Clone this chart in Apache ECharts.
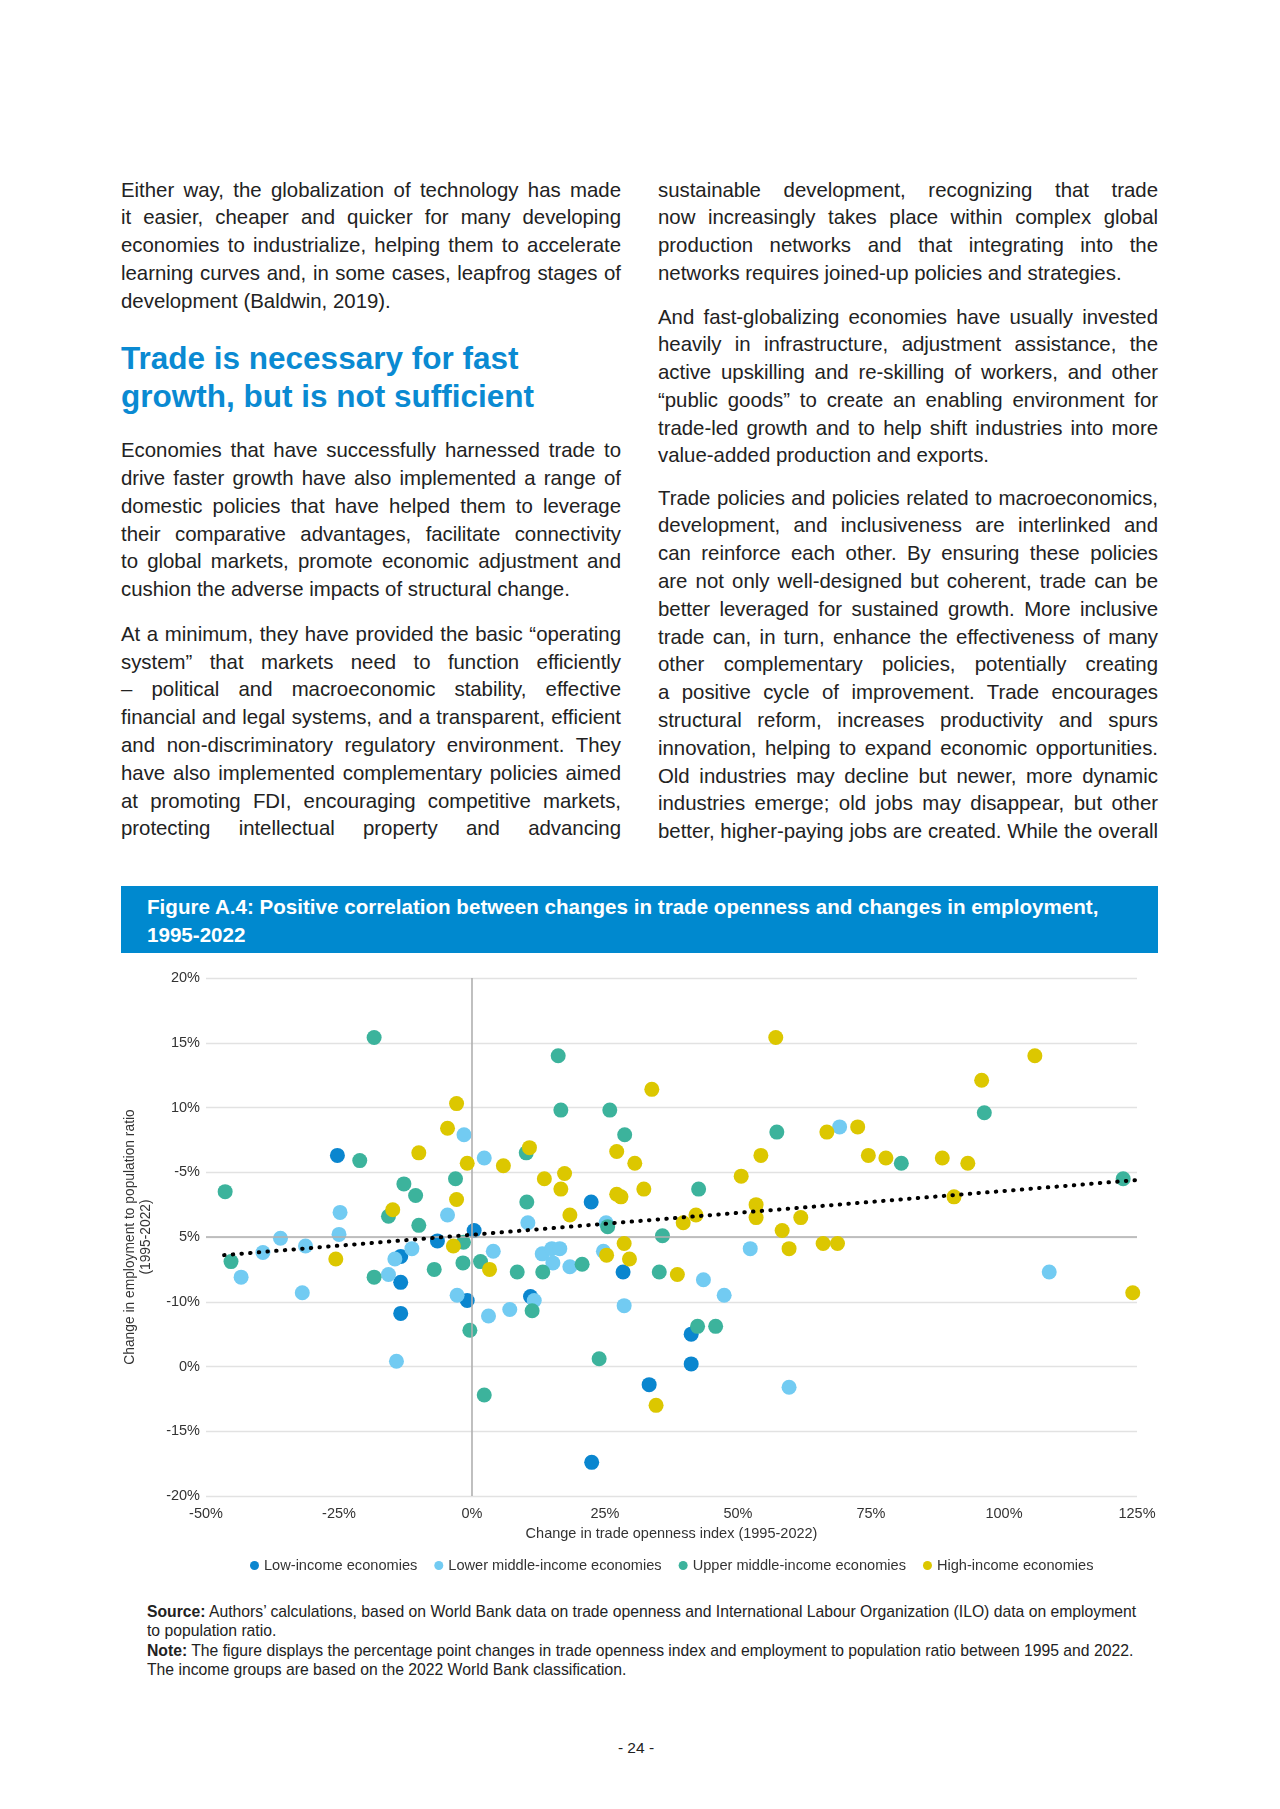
<!DOCTYPE html>
<html>
<head>
<meta charset="utf-8">
<script src="https://cdn.jsdelivr.net/npm/echarts@6/dist/echarts.min.js"></script>
<style>
  html, body { margin:0; padding:0; background:#fff; }
  body { width:1280px; height:1809px; position:relative; overflow:hidden; font-family:'Liberation Sans', Arial, sans-serif; color:#222; }
  .col { position:absolute; width:500px; font-size:20.4px; }
  .p { position:absolute; left:0; width:500px; }
  .l { height:27.8px; line-height:27.8px; text-align:justify; text-align-last:justify; white-space:nowrap; }
  .l.e { text-align:left; text-align-last:left; }
  .h { position:absolute; left:0; font-size:31.5px; font-weight:bold; color:#0a8ad2; line-height:38px; white-space:nowrap; }
  #bar { position:absolute; left:121px; top:886px; width:1037px; height:67px; background:#0089cf; color:#fff; font-weight:bold; font-size:20.6px; line-height:28px; box-sizing:border-box; padding:7px 0 0 26px; white-space:nowrap; }
  #chart { position:absolute; left:121px; top:955px; width:1040px; height:640px; }
  #src { position:absolute; left:147px; top:1602px; width:1010px; font-size:15.8px; line-height:19.4px; color:#222; white-space:nowrap; }
  #pg { position:absolute; left:600px; width:72px; top:1739px; text-align:center; font-size:15.5px; color:#222; }
</style>
</head>
<body>
<div class="col" style="left:121px; top:0;">
  <div class="p" style="top:176.5px;">
    <div class="l">Either way, the globalization of technology has made</div>
    <div class="l">it easier, cheaper and quicker for many developing</div>
    <div class="l">economies to industrialize, helping them to accelerate</div>
    <div class="l">learning curves and, in some cases, leapfrog stages of</div>
    <div class="l e">development (Baldwin, 2019).</div>
  </div>
  <div class="h" style="top:338.8px;">Trade is necessary for fast<br>growth, but is not sufficient</div>
  <div class="p" style="top:437.3px;">
    <div class="l">Economies that have successfully harnessed trade to</div>
    <div class="l">drive faster growth have also implemented a range of</div>
    <div class="l">domestic policies that have helped them to leverage</div>
    <div class="l">their comparative advantages, facilitate connectivity</div>
    <div class="l">to global markets, promote economic adjustment and</div>
    <div class="l e">cushion the adverse impacts of structural change.</div>
  </div>
  <div class="p" style="top:620.8px;">
    <div class="l">At a minimum, they have provided the basic “operating</div>
    <div class="l">system” that markets need to function efficiently</div>
    <div class="l">– political and macroeconomic stability, effective</div>
    <div class="l">financial and legal systems, and a transparent, efficient</div>
    <div class="l">and non-discriminatory regulatory environment. They</div>
    <div class="l">have also implemented complementary policies aimed</div>
    <div class="l">at promoting FDI, encouraging competitive markets,</div>
    <div class="l">protecting intellectual property and advancing</div>
  </div>
</div>
<div class="col" style="left:658px; top:0;">
  <div class="p" style="top:176.5px;">
    <div class="l">sustainable development, recognizing that trade</div>
    <div class="l">now increasingly takes place within complex global</div>
    <div class="l">production networks and that integrating into the</div>
    <div class="l e">networks requires joined-up policies and strategies.</div>
  </div>
  <div class="p" style="top:303.5px;">
    <div class="l">And fast-globalizing economies have usually invested</div>
    <div class="l">heavily in infrastructure, adjustment assistance, the</div>
    <div class="l">active upskilling and re-skilling of workers, and other</div>
    <div class="l">“public goods” to create an enabling environment for</div>
    <div class="l">trade-led growth and to help shift industries into more</div>
    <div class="l e">value-added production and exports.</div>
  </div>
  <div class="p" style="top:484.7px;">
    <div class="l">Trade policies and policies related to macroeconomics,</div>
    <div class="l">development, and inclusiveness are interlinked and</div>
    <div class="l">can reinforce each other. By ensuring these policies</div>
    <div class="l">are not only well-designed but coherent, trade can be</div>
    <div class="l">better leveraged for sustained growth. More inclusive</div>
    <div class="l">trade can, in turn, enhance the effectiveness of many</div>
    <div class="l">other complementary policies, potentially creating</div>
    <div class="l">a positive cycle of improvement. Trade encourages</div>
    <div class="l">structural reform, increases productivity and spurs</div>
    <div class="l">innovation, helping to expand economic opportunities.</div>
    <div class="l">Old industries may decline but newer, more dynamic</div>
    <div class="l">industries emerge; old jobs may disappear, but other</div>
    <div class="l">better, higher-paying jobs are created. While the overall</div>
  </div>
</div>
<div id="bar">Figure A.4: Positive correlation between changes in trade openness and changes in employment,<br>1995-2022</div>
<div id="chart"></div>
<div id="src"><b>Source:</b> Authors’ calculations, based on World Bank data on trade openness and International Labour Organization (ILO) data on employment<br>to population ratio.<br><b>Note:</b> The figure displays the percentage point changes in trade openness index and employment to population ratio between 1995 and 2022.<br>The income groups are based on the 2022 World Bank classification.</div>
<div id="pg">- 24 -</div>
<script>
// fit justified text lines: tighten letter spacing only where a line is naturally wider than the column
document.querySelectorAll('.l').forEach(el => {
  const span = document.createElement('span');
  span.textContent = el.textContent;
  el.textContent = '';
  el.appendChild(span);
  const w = span.getBoundingClientRect().width;
  const n = span.textContent.length;
  if (w > 499) el.style.letterSpacing = ((499 - w) / n).toFixed(3) + 'px';
});
(function () {
  const el = document.getElementById('src');
  const w = el.scrollWidth;
  if (w > 1005) el.style.fontSize = (15.8 * 1005 / w).toFixed(2) + 'px';
})();

// ---- data ----
const seriesNames = ['Low-income economies', 'Lower middle-income economies', 'Upper middle-income economies', 'High-income economies'];
const lowX = [-25.3, 0.4, -13.4, -13.4, -13.4, -6.5, -0.9, 22.4, 28.4, 11.0, 41.2, 41.2, 33.3, 22.5];
const lowY = [6.3, 0.5, -1.5, -3.5, -5.9, -0.3, -4.9, 2.7, -2.7, -4.6, -7.5, -9.8, -11.4, -17.4];
const lowerMidX = [-1.5, 2.3, -24.8, -4.6, -36.0, -25.0, -31.3, -39.3, -43.4, -31.9, -11.3, -14.5, -15.7, -14.2, 4.0, -2.8, 7.1, 3.1, 69.1, 10.5, 25.2, 24.7, 43.5, 47.4, 52.3, 13.2, 15.0, 16.5, 15.2, 18.4, 11.7, 28.6, 59.6, 108.5];
const lowerMidY = [7.9, 6.1, 1.9, 1.7, -0.1, 0.2, -0.7, -1.2, -3.1, -4.3, -0.9, -1.7, -2.9, -9.6, -1.1, -4.5, -5.6, -6.1, 8.5, 1.1, 1.1, -1.1, -3.3, -4.5, -0.9, -1.3, -0.9, -0.9, -2.0, -2.3, -4.9, -5.3, -11.6, -2.7];
const upperMidX = [-18.4, -21.1, -3.1, -46.4, -12.8, -10.6, -15.7, -10.0, -45.3, -18.4, -1.6, -1.7, -7.1, 1.6, 8.5, -0.4, 2.3, 16.2, 16.7, 25.9, 28.7, 57.3, 10.2, 42.6, 10.3, 25.5, 35.8, 96.3, 80.7, 122.4, 35.2, 20.7, 13.3, 11.3, 42.4, 45.8, 23.9];
const upperMidY = [15.4, 5.9, 4.5, 3.5, 4.1, 3.2, 1.6, 0.9, -1.9, -3.1, -0.4, -2.0, -2.5, -1.9, -2.7, -7.2, -12.2, 14.0, 9.8, 9.8, 7.9, 8.1, 6.5, 3.7, 2.7, 0.8, 0.1, 9.6, 5.7, 4.5, -2.7, -2.1, -2.7, -5.7, -6.9, -6.9, -9.4];
const highX = [-2.9, -4.6, -10.0, -0.9, 5.9, -2.9, -14.9, -25.6, -3.5, 3.3, 57.1, 33.8, 66.7, 10.8, 27.2, 30.6, 54.3, 13.6, 17.4, 16.7, 50.6, 32.3, 27.2, 28.0, 18.4, 53.4, 53.4, 61.8, 39.7, 42.1, 58.3, 28.6, 105.8, 95.8, 72.5, 74.5, 77.8, 88.4, 93.2, 90.6, 25.3, 29.6, 38.6, 59.6, 66.0, 68.7, 34.6, 124.2];
const highY = [10.3, 8.4, 6.5, 5.7, 5.5, 2.9, 2.1, -1.7, -0.7, -2.5, 15.4, 11.4, 8.1, 6.9, 6.6, 5.7, 6.3, 4.5, 4.9, 3.7, 4.7, 3.7, 3.3, 3.1, 1.7, 2.5, 1.5, 1.5, 1.1, 1.7, 0.5, -0.5, 14.0, 12.1, 8.5, 6.3, 6.1, 6.1, 5.7, 3.1, -1.4, -1.7, -2.9, -0.9, -0.5, -0.5, -13.0, -4.3];
const trendX = [-46.6, 125];
const trendY = [-1.4, 4.4];
// y tick labels as printed in the reference, bottom to top
const yTickLabels = ['-20%', '-15%', '0%', '-10%', '5%', '-5%', '10%', '15%', '20%'];
const xTickLabels = ['-50%', '-25%', '0%', '25%', '50%', '75%', '100%', '125%'];

const colors = ['#0a86cf', '#72cbf2', '#3cb39c', '#dcc700'];
const pairs = (xs, ys) => xs.map((x, i) => [x, ys[i]]);
const sets = [pairs(lowX, lowY), pairs(lowerMidX, lowerMidY), pairs(upperMidX, upperMidY), pairs(highX, highY)];

const chart = echarts.init(document.getElementById('chart'), null, { renderer: 'canvas' });
const font = "'Liberation Sans', Arial, sans-serif";
const option = {
  animation: false,
  textStyle: { fontFamily: font },
  grid: { left: 85, top: 23, width: 931, height: 518, containLabel: false, outerBoundsMode: 'none' },
  xAxis: {
    type: 'value', min: -50, max: 125, interval: 25,
    axisLine: { show: false, onZero: false },
    axisTick: { show: false },
    splitLine: { show: false },
    axisLabel: { color: '#333', fontSize: 14.5, margin: 10, formatter: v => xTickLabels[Math.round((v + 50) / 25)] },
    name: 'Change in trade openness index (1995-2022)',
    nameLocation: 'middle', nameGap: 30,
    nameTextStyle: { color: '#333', fontSize: 14.5 }
  },
  yAxis: {
    type: 'value', min: -20, max: 20, interval: 5,
    axisLine: { show: false, onZero: false },
    axisTick: { show: false },
    splitLine: { show: true, lineStyle: { color: '#e2e2e2', width: 1.3 } },
    axisLabel: { color: '#333', fontSize: 14.5, margin: 6, formatter: v => yTickLabels[Math.round((v + 20) / 5)] },
    name: 'Change in employment to population ratio\n(1995-2022)',
    nameLocation: 'middle', nameGap: 52,
    nameTextStyle: { color: '#333', fontSize: 13.8, lineHeight: 16 }
  },
  legend: {
    data: seriesNames,
    left: 124, top: 598,
    icon: 'circle', itemWidth: 9, itemHeight: 9, itemGap: 17,
    textStyle: { color: '#333', fontSize: 14.6, fontFamily: font }
  },
  series: [
    {
      name: 'zero', type: 'line', data: [], z: 1, silent: true,
      markLine: {
        silent: true, symbol: ['none', 'none'], label: { show: false },
        lineStyle: { color: '#b0b0b0', width: 1.6, type: 'solid' },
        data: [{ xAxis: 0 }, { yAxis: 0 }]
      }
    },
    ...sets.map((d, i) => ({
      name: seriesNames[i], type: 'scatter', data: d, z: 2 + i,
      symbol: 'circle', symbolSize: 15,
      itemStyle: { color: colors[i], opacity: 1 }
    })),
    {
      name: 'trend', type: 'line', data: pairs(trendX, trendY), z: 20,
      symbol: 'none', silent: true,
      lineStyle: { color: '#000', width: 4, type: [0.5, 8.2], cap: 'round' }
    }
  ]
};
chart.setOption(option);
</script>
</body>
</html>
